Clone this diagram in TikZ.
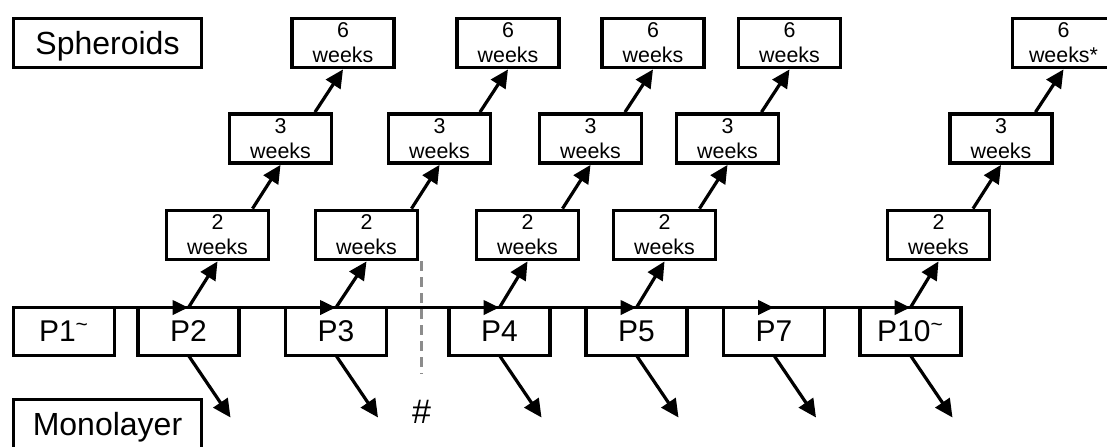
\documentclass[tikz,border=0pt]{standalone}
\usepackage{fontspec}
\setmainfont{Liberation Sans}
\usetikzlibrary{arrows.meta, calc}
\tikzset{
  tag/.style={rectangle,draw,line width=1.9pt,minimum width=94pt,minimum height=24.5pt,inner sep=0pt,text depth=0pt,font=\fontsize{16}{19}\selectfont},
  pbox/.style={rectangle,draw,line width=1.9pt,minimum width=50.5pt,minimum height=24pt,inner sep=0pt,outer sep=0pt,text depth=0pt,font=\fontsize{15}{18}\selectfont},
  wbox/.style={rectangle,draw,line width=1.9pt,minimum width=51pt,minimum height=24.5pt,inner sep=0pt,align=center,font=\fontsize{10.7}{12.5}\selectfont},
  line/.style={line width=1.6pt,-{Triangle[length=9pt,width=8.5pt]}},
  track/.style={line width=1.9pt,-{Triangle[length=8pt,width=7pt]}},
  cut/.style={draw=cutgray,line width=1.5pt,dash pattern=on 5pt off 3pt}
}
\definecolor{cutgray}{HTML}{8C8C8C}

\begin{document}
\begin{tikzpicture}[x=0.5pt,y=-0.5pt]
\useasboundingbox (0,0) rectangle (1107,446);
% side labels
\node[tag] (sph) at (107.5,43) {Spheroids};
\node[tag] (mono) at (107.5,424) {Monolayer};
% passages
\node[pbox] (p1) at (64,331.5) {P1\textsuperscript{\textasciitilde}};
\node[pbox] (p2) at (188.5,331.5) {P2};
\node[pbox] (p3) at (336,331.5) {P3};
\node[pbox] (p4) at (499.5,331.5) {P4};
\node[pbox] (p5) at (636.5,331.5) {P5};
\node[pbox] (p7) at (774,331.5) {P7};
\node[pbox] (p10) at (910.5,331.5) {P10\textsuperscript{\textasciitilde}};
% spheroid time points
\node[wbox] (a2) at (217.5,235) {2\\weeks};
\node[wbox] (b2) at (280.5,138.5) {3\\weeks};
\node[wbox] (c2) at (343,43) {6\\weeks};
\node[wbox] (a3) at (366.5,235) {2\\weeks};
\node[wbox] (b3) at (439.5,138.5) {3\\weeks};
\node[wbox] (c3) at (508,43) {6\\weeks};
\node[wbox] (a4) at (527.5,235) {2\\weeks};
\node[wbox] (b4) at (590.5,138.5) {3\\weeks};
\node[wbox] (c4) at (653,43) {6\\weeks};
\node[wbox] (a5) at (664.5,235) {2\\weeks};
\node[wbox] (b5) at (727.5,138.5) {3\\weeks};
\node[wbox] (c5) at (789.5,43) {6\\weeks};
\node[wbox] (a10) at (938.5,235) {2\\weeks};
\node[wbox] (b10) at (1001,138.5) {3\\weeks};
\node[wbox] (c10) at (1063.5,43) {6\\weeks*};
\node[inner sep=0pt,font=\fontsize{17}{20}\selectfont] (hash) at (421.5,411.5) {\#};
% passage line
\draw[track] (p1.north west) -- (p2.north);
\draw[track] (p2.north) -- (p3.north);
\draw[track] (p3.north) -- (p4.north);
\draw[track] (p4.north) -- (p5.north);
\draw[track] (p5.north) -- (p7.north);
\draw[track] (p7.north) -- (p10.north);
\draw[track,-] (p10.north) -- (p10.north east);
% spheroid arrows
\draw[line] (p2.north) -- (a2.south);
\draw[line] ($(a2.north -| b2.south)+(-28,0)$) -- (b2.south);
\draw[line] ($(b2.north -| c2.south)+(-28,0)$) -- (c2.south);
\draw[line] (p3.north) -- (a3.south);
\draw[line] ($(a3.north -| b3.south)+(-28,0)$) -- (b3.south);
\draw[line] ($(b3.north -| c3.south)+(-28,0)$) -- (c3.south);
\draw[line] (p4.north) -- (a4.south);
\draw[line] ($(a4.north -| b4.south)+(-28,0)$) -- (b4.south);
\draw[line] ($(b4.north -| c4.south)+(-28,0)$) -- (c4.south);
\draw[line] (p5.north) -- (a5.south);
\draw[line] ($(a5.north -| b5.south)+(-28,0)$) -- (b5.south);
\draw[line] ($(b5.north -| c5.south)+(-28,0)$) -- (c5.south);
\draw[line] (p10.north) -- (a10.south);
\draw[line] ($(a10.north -| b10.south)+(-28,0)$) -- (b10.south);
\draw[line] ($(b10.north -| c10.south)+(-28,0)$) -- (c10.south);
% monolayer arrows
\coordinate (d2) at ($(p2.south)+(42,62)$);
\coordinate (d3) at ($(p3.south)+(42,62)$);
\coordinate (d4) at ($(p4.south)+(42,62)$);
\coordinate (d5) at ($(p5.south)+(42,62)$);
\coordinate (d7) at ($(p7.south)+(42,62)$);
\coordinate (d10) at ($(p10.south)+(42,62)$);
\draw[line] (p2.south) -- (d2);
\draw[line] (p3.south) -- (d3);
\draw[line] (p4.south) -- (d4);
\draw[line] (p5.south) -- (d5);
\draw[line] (p7.south) -- (d7);
\draw[line] (p10.south) -- (d10);
% cut-off
\draw[cut] (a3.south -| hash) -- ($(hash.north)+(0,-25)$);
\end{tikzpicture}
\end{document}
